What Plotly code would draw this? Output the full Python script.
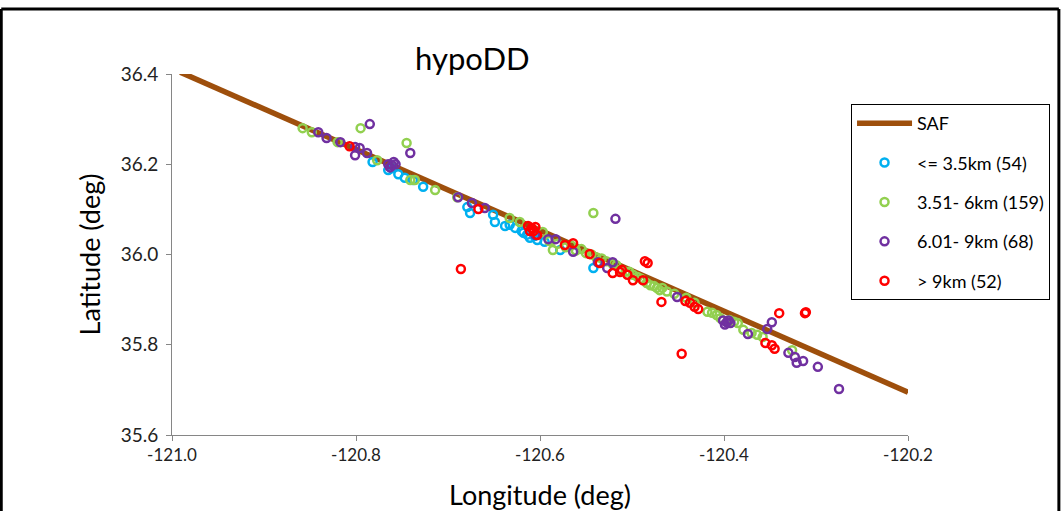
import plotly.graph_objects as go

# SAF trace
saf_lon = [-120.991, -120.2]
saf_lat = [36.404, 35.695]

# <= 3.5 km
blue_lon = [-120.782, -120.765, -120.761, -120.754, -120.747, -120.738, -120.727, -120.679, -120.676,
            -120.651, -120.649, -120.638, -120.627, -120.620, -120.618, -120.611, -120.606, -120.603,
            -120.595, -120.578, -120.542, -120.537, -120.633, -120.614]
blue_lat = [36.205, 36.187, 36.191, 36.178, 36.170, 36.165, 36.150, 36.105, 36.092,
            36.088, 36.072, 36.063, 36.059, 36.052, 36.048, 36.037, 36.041, 36.032,
            36.028, 36.010, 35.970, 35.983, 36.066, 36.044]

# 3.51 - 6 km
green_lon = [-120.858, -120.848, -120.820, -120.795, -120.777, -120.745, -120.741, -120.736, -120.714,
             -120.690, -120.633, -120.622, -120.597, -120.586, -120.542, -120.590, -120.572, -120.561,
             -120.550, -120.539, -120.528, -120.521, -120.513, -120.507, -120.499, -120.490, -120.484,
             -120.480, -120.473, -120.470, -120.467, -120.454, -120.441, -120.432, -120.418, -120.408,
             -120.404, -120.394, -120.385, -120.379, -120.370, -120.364, -120.358, -120.326,
             -120.581, -120.566, -120.555, -120.544, -120.533, -120.517, -120.503, -120.494, -120.476,
             -120.462, -120.413, -120.389]
green_lat = [36.280, 36.271, 36.249, 36.280, 36.209, 36.247, 36.165, 36.165, 36.143,
             36.127, 36.081, 36.072, 36.050, 36.010, 36.092, 36.030, 36.016, 36.009,
             36.003, 35.994, 35.985, 35.979, 35.966, 35.962, 35.955, 35.946, 35.937,
             35.932, 35.926, 35.921, 35.926, 35.913, 35.904, 35.893, 35.873, 35.866,
             35.859, 35.855, 35.848, 35.833, 35.826, 35.822, 35.817, 35.788,
             36.024, 36.020, 36.012, 36.000, 35.991, 35.976, 35.962, 35.950, 35.930,
             35.918, 35.871, 35.851]

# 6.01 - 9 km
purple_lon = [-120.841, -120.832, -120.817, -120.785, -120.741, -120.801, -120.801, -120.796, -120.788,
              -120.765, -120.761, -120.757, -120.763, -120.759, -120.689, -120.674, -120.660, -120.605,
              -120.591, -120.583, -120.564, -120.518, -120.537, -120.521, -120.527, -120.451, -120.401,
              -120.397, -120.393, -120.399, -120.395, -120.374, -120.353, -120.348, -120.330, -120.323,
              -120.321, -120.314, -120.298, -120.275]
purple_lat = [36.271, 36.258, 36.249, 36.289, 36.225, 36.238, 36.220, 36.236, 36.225,
              36.200, 36.198, 36.200, 36.193, 36.205, 36.127, 36.114, 36.103, 36.043,
              36.034, 36.034, 36.006, 36.079, 35.983, 35.983, 35.970, 35.906, 35.854,
              35.850, 35.848, 35.845, 35.854, 35.824, 35.835, 35.850, 35.782, 35.773,
              35.760, 35.764, 35.751, 35.702]

# > 9 km
red_lon = [-120.807, -120.667, -120.613, -120.609, -120.605, -120.611, -120.607, -120.603, -120.686,
           -120.573, -120.564, -120.546, -120.535, -120.521, -120.513, -120.511, -120.505, -120.499,
           -120.488, -120.486, -120.483, -120.468, -120.446, -120.442, -120.437, -120.432, -120.428,
           -120.355, -120.348, -120.345, -120.340, -120.312, -120.311]
red_lat = [36.240, 36.101, 36.063, 36.059, 36.061, 36.052, 36.052, 36.043, 35.968,
           36.021, 36.025, 36.001, 35.981, 35.959, 35.961, 35.966, 35.955, 35.943,
           35.943, 35.985, 35.981, 35.895, 35.780, 35.897, 35.893, 35.884, 35.879,
           35.804, 35.799, 35.791, 35.870, 35.870, 35.872]

x_ticks = [-121.0, -120.8, -120.6, -120.4, -120.2]
x_tick_text = ['-121.0', '-120.8', '-120.6', '-120.4', '-120.2']
y_ticks = [35.6, 35.8, 36.0, 36.2, 36.4]
y_tick_text = ['35.6', '35.8', '36.0', '36.2', '36.4']

font = 'Lato'

fig = go.Figure()
fig.add_trace(go.Scatter(x=saf_lon, y=saf_lat, mode='lines', name='SAF', legendgroup='a',
                         line=dict(color='#9E4F0C', width=5.5)))

groups = [
    ('<= 3.5km (54)', blue_lon, blue_lat, '#00B0F0'),
    ('3.51- 6km (159)', green_lon, green_lat, '#92D050'),
    ('6.01- 9km (68)', purple_lon, purple_lat, '#7030A0'),
    ('> 9km (52)', red_lon, red_lat, '#FF0000'),
]
for i, (name, lon, lat, col) in enumerate(groups):
    fig.add_trace(go.Scatter(x=lon, y=lat, mode='markers', name=name, legendgroup=str(i),
                             marker=dict(symbol='circle-open', size=8, color=col,
                                         line=dict(color=col, width=2.5))))

# outer chart frame (top, left, right)
frame = dict(type='line', xref='paper', yref='paper', line=dict(color='black', width=3))
fig.add_shape(x0=-0.232, x1=1.205, y0=1.180, y1=1.180, **frame)
fig.add_shape(x0=-0.232, x1=-0.232, y0=1.180, y1=-0.22, **frame)
fig.add_shape(x0=1.205, x1=1.205, y0=1.180, y1=-0.22, **frame)

fig.update_layout(
    width=1062, height=511,
    margin=dict(l=172, r=154, t=74, b=76),
    paper_bgcolor='white', plot_bgcolor='white',
    font=dict(family=font, color='black'),
    title=dict(text='hypoDD', font=dict(size=31, family=font, color='black'),
               xref='paper', x=0.408, xanchor='center', yref='container', y=0.885, yanchor='middle'),
    xaxis=dict(range=[-121.0, -120.2], tickvals=x_ticks, ticktext=x_tick_text, automargin=False,
               showgrid=False, zeroline=False, showline=True, linecolor='#868686', linewidth=1,
               ticks='outside', ticklen=5, tickcolor='#868686', tickfont=dict(size=17, color='#222'),
               title=dict(text='Longitude (deg)', font=dict(size=27), standoff=21)),
    yaxis=dict(range=[35.6, 36.4], tickvals=y_ticks, ticktext=y_tick_text, automargin=False,
               showgrid=False, zeroline=False, showline=True, linecolor='#868686', linewidth=1,
               ticks='outside', ticklen=5, tickcolor='#868686', tickfont=dict(size=19, color='#222'),
               ticklabelstandoff=4,
               title=dict(text='Latitude (deg)', font=dict(size=27), standoff=12)),
    legend=dict(x=0.9226, y=0.917, xanchor='left', yanchor='top', bgcolor='white',
                bordercolor='black', borderwidth=1, font=dict(size=18), tracegroupgap=13,
                itemwidth=55),
    showlegend=True,
)

fig.write_html("out.html", config={'displayModeBar': False},
               post_script="document.body.style.margin='0px';")
